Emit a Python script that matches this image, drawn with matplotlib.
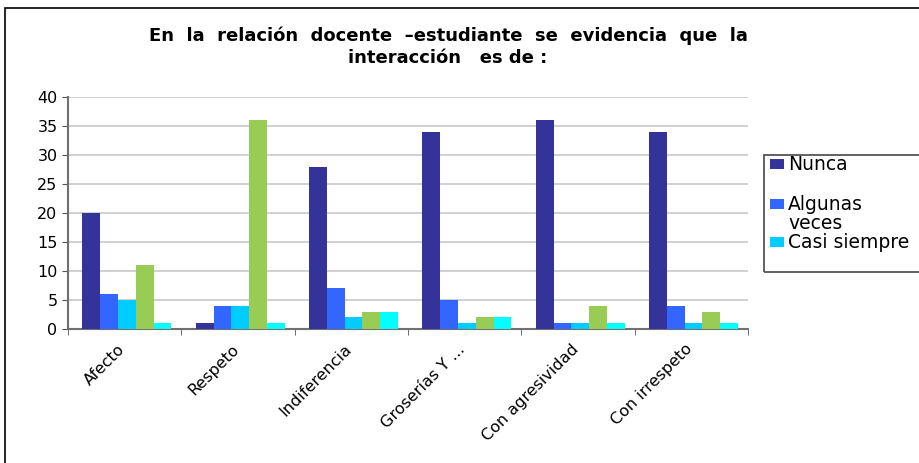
import matplotlib.pyplot as plt
import numpy as np
from matplotlib.patches import Rectangle
from matplotlib.transforms import ScaledTranslation

# data
categories = ["Afecto", "Respeto", "Indiferencia", "Groserías Y ...", "Con agresividad", "Con irrespeto"]
nunca = [20, 1, 28, 34, 36, 34]
algunas_veces = [6, 4, 7, 5, 1, 4]
casi_siempre = [5, 4, 2, 1, 1, 1]
serie4 = [11, 36, 3, 2, 4, 3]
serie5 = [1, 1, 3, 2, 1, 1]

series = [nunca, algunas_veces, casi_siempre, serie4, serie5]
legend_labels = ["Nunca", "Algunas\nveces", "Casi siempre"]
colors = ["#333399", "#3366FF", "#00CCFF", "#99CC55", "#00FFFF"]

fig = plt.figure(figsize=(9.19, 4.63), dpi=100)
W, H = 919, 463

def fx(px):
    return px / W

def fy(py):
    return 1 - py / H

# outer frame of the chart area
fig.patches.append(Rectangle((fx(5), -0.1), 1.1, fy(8) + 0.1, transform=fig.transFigure,
                             fill=False, edgecolor="black", linewidth=1.2))

ax = fig.add_axes([fx(68), fy(329), 680 / W, 232 / H])

x = np.arange(len(categories))
bw = 0.157
for i, (vals, col) in enumerate(zip(series, colors)):
    ax.bar(x + (i - 2) * bw + 0.02, vals, bw, color=col, zorder=3)

ax.set_xlim(-0.5, len(categories) - 0.5)
ax.set_ylim(0, 40)
ax.set_yticks(range(0, 41, 5))
ax.yaxis.grid(True, color="#C8C8C8", linewidth=1.2, zorder=0)
ax.tick_params(axis="y", labelsize=11.5, direction="out", length=4, color="#555555")

ax.set_xticks(x)
ax.set_xticklabels(categories, rotation=45, ha="right", rotation_mode="anchor", fontsize=11.5)
ax.tick_params(axis="x", which="major", length=0, pad=9)
shift = ScaledTranslation(-7 / 100, 0, fig.dpi_scale_trans)
for lbl in ax.get_xticklabels():
    lbl.set_transform(lbl.get_transform() + shift)
ax.set_xticks(np.arange(-0.5, len(categories)), minor=True)
ax.tick_params(axis="x", which="minor", length=4, color="#555555", direction="out")

for s in ["top", "right"]:
    ax.spines[s].set_visible(False)
for s in ["left", "bottom"]:
    ax.spines[s].set_color("#707070")
    ax.spines[s].set_linewidth(1.5)

fig.text(fx(448), fy(36), "En  la  relación  docente  –estudiante  se  evidencia  que  la",
         ha="center", va="center", fontsize=13, fontweight="bold")
fig.text(fx(448), fy(58), "interacción   es de :",
         ha="center", va="center", fontsize=13, fontweight="bold")

# legend box, cut by the right edge like in the original
fig.patches.append(Rectangle((fx(764), fy(272)), 0.3, (272 - 155) / H, transform=fig.transFigure,
                             fill=False, edgecolor="#555555", linewidth=1.3))
entry_y = [165, 205, 243]
for lab, col, ey in zip(legend_labels, colors, entry_y):
    fig.patches.append(Rectangle((fx(770), fy(ey + 4)), 14 / W, 10 / H, transform=fig.transFigure,
                                 facecolor=col, edgecolor="none"))
    fig.text(fx(788), fy(ey - 10), lab, ha="left", va="top", fontsize=13.5,
             linespacing=1.0)

fig.savefig("out.png", dpi=100)
